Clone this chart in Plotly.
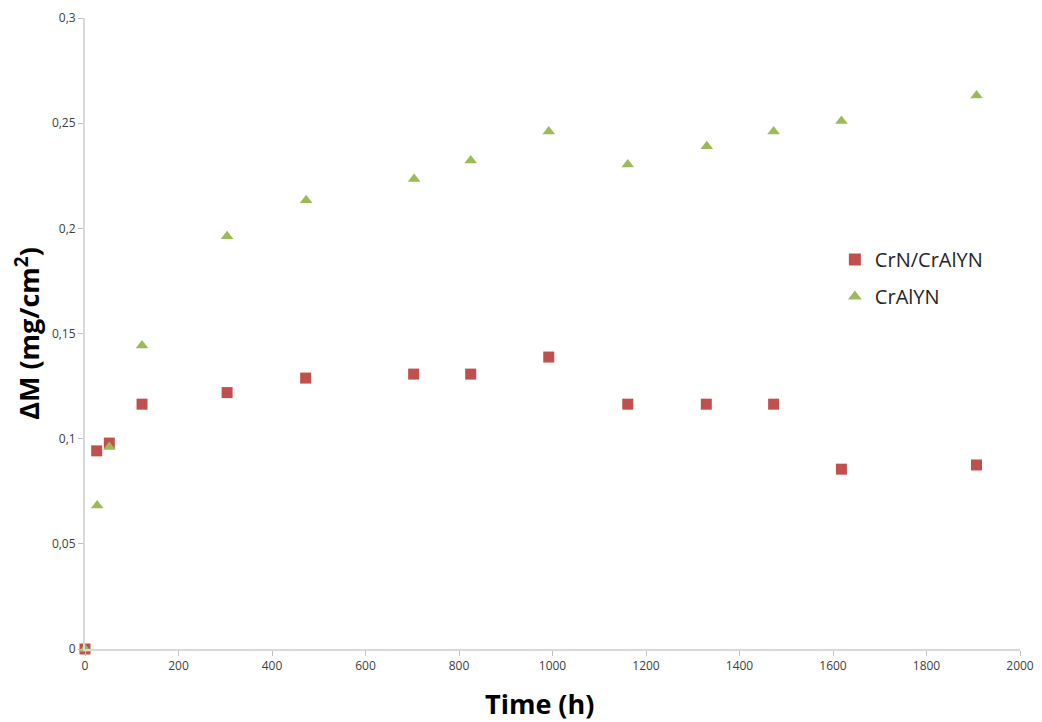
import plotly.graph_objects as go

time_h = [0, 25, 52, 122, 304, 472, 703, 825, 992, 1161, 1329, 1473, 1618, 1907]
crn_cralyn = [0, 0.0942, 0.0979, 0.1164, 0.1219, 0.1288, 0.1307, 0.1307, 0.1388,
              0.1164, 0.1164, 0.1164, 0.0855, 0.0875]
time_h_g = [0, 26, 52, 122, 304, 473, 704, 825, 992, 1161, 1330, 1473, 1618, 1907]
cralyn = [0, 0.0682, 0.0960, 0.1443, 0.1962, 0.2133, 0.2235, 0.2322, 0.2460,
          0.2303, 0.2390, 0.2460, 0.2510, 0.2631]

x_ticks = [0, 200, 400, 600, 800, 1000, 1200, 1400, 1600, 1800, 2000]
y_ticks = [0, 0.05, 0.1, 0.15, 0.2, 0.25, 0.3]
y_tick_text = ["0", "0,05", "0,1", "0,15", "0,2", "0,25", "0,3"]

fig = go.Figure()
fig.add_trace(go.Scatter(
    x=time_h, y=crn_cralyn, mode="markers", name="CrN/CrAlYN", legendgroup="a",
    marker=dict(symbol="square", size=11, color="#c0504d"), cliponaxis=False))
fig.add_trace(go.Scatter(
    x=time_h_g, y=cralyn, mode="markers", name="CrAlYN", legendgroup="b",
    marker=dict(symbol="triangle-up", size=11, color="#9bbb59"), cliponaxis=False))

axis_common = dict(showgrid=False, zeroline=False, showline=True, linecolor="#d9d9d9",
                   linewidth=2, ticks="outside", ticklen=5, tickcolor="#bfbfbf",
                   automargin=False,
                   tickfont=dict(family="Open Sans", size=12, color="#404040"))

# the page body adds an 8px offset, so the figure is 8px smaller on each axis
fig.update_layout(
    width=1034, height=714,
    margin=dict(l=77, r=22, t=10, b=73),
    paper_bgcolor="white", plot_bgcolor="white",
    showlegend=True,
    legend=dict(x=0.802, y=0.648, xanchor="left", yanchor="top",
                font=dict(family="Open Sans", size=20, color="#262626"),
                bgcolor="rgba(0,0,0,0)", itemsizing="constant", tracegroupgap=8),
    xaxis=dict(range=[0, 2000], tickvals=x_ticks, **axis_common),
    yaxis=dict(range=[0, 0.3], tickvals=y_ticks, ticktext=y_tick_text,
               title=dict(text="<b>ΔM (mg/cm<sup>2</sup>)</b>", standoff=6,
                          font=dict(family="Open Sans", size=27, color="black")),
               **axis_common),
    annotations=[dict(text="<b>Time (h)</b>", xref="paper", yref="paper",
                      x=0.4856, y=0, xanchor="center", yanchor="middle", yshift=-54,
                      showarrow=False,
                      font=dict(family="Open Sans", size=27, color="black"))],
)

fig.write_html("out.html")
